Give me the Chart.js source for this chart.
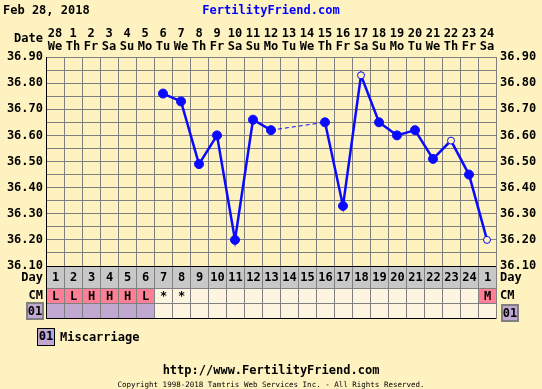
<!DOCTYPE html>
<html>
<head>
<meta charset="utf-8">
<script src="https://cdn.jsdelivr.net/npm/chart.js@4/dist/chart.umd.min.js"></script>
<style>
  body { margin: 0; background: #fdf2c0; }
  #wrap { position: relative; width: 542px; height: 389px; font-family: "DejaVu Sans Mono", monospace; font-weight: bold; }
  canvas { position: absolute; left: 0; top: 0; }
  .t { position: absolute; font-size: 12px; white-space: nowrap; line-height: 14px; }
  .box { position: absolute; background: #c0a8d0; border: 1px solid #000; font-size: 12px; line-height: 15px; text-align: center; }
</style>
</head>
<body>
<div id="wrap">
  <canvas id="chart" width="542" height="389"></canvas>
  <div class="t" style="left:3px;top:3px">Feb 28, 2018</div>
  <div class="t" style="left:0;width:542px;text-align:center;top:3px;color:#0000ff">FertilityFriend.com</div>
  <div class="box" style="left:37px;top:328px;width:16px;height:16px">01</div>
  <div class="t" style="left:60px;top:330px">Miscarriage</div>
  <div class="t" style="left:0;width:542px;text-align:center;top:363px">http://www.FertilityFriend.com</div>
  <div class="t" style="left:0;width:542px;text-align:center;top:378px;font-size:7.5px;font-weight:normal">Copyright 1998-2018 Tamtris Web Services Inc. - All Rights Reserved.</div>
</div>
<script>
// chart data
const dates = ["28","1","2","3","4","5","6","7","8","9","10","11","12","13","14","15","16","17","18","19","20","21","22","23","24"];
const weekdays = ["We","Th","Fr","Sa","Su","Mo","Tu","We","Th","Fr","Sa","Su","Mo","Tu","We","Th","Fr","Sa","Su","Mo","Tu","We","Th","Fr","Sa"];
const cycleDays = ["1","2","3","4","5","6","7","8","9","10","11","12","13","14","15","16","17","18","19","20","21","22","23","24","1"];
const temps = [null,null,null,null,null,null,36.76,36.73,36.49,36.60,36.20,36.66,36.62,null,null,36.65,36.33,36.83,36.65,36.60,36.62,36.51,36.58,36.45,36.20];
const openPoints = [17, 22, 24]; // excluded temps
const cm = ["L","L","H","H","H","L","*","*","","","","","","","","","","","","","","","","","M"];
const miscarriage = [1,1,1,1,1,1,0,0,0,0,0,0,0,0,0,0,0,0,0,0,0,0,0,0,0];
const yTicks = { min: 36.10, max: 36.90, step: 0.05 };

const FONT = { family: "DejaVu Sans Mono", size: 12, weight: "bold" };
const BG = "#fdf2c0";
const GRID = "#808080";
const BLUE = "#0a0aff";

const labels = dates.map((d, i) => [d, weekdays[i]]);

const tablePlugin = {
  id: "ffTable",
  afterDraw(chart) {
    const ctx = chart.ctx;
    const xs = chart.scales.x;
    const area = chart.chartArea;
    const w = xs.width / dates.length;
    const rows = [
      { top: area.bottom, h: 22 },
      { top: area.bottom + 22, h: 15 },
      { top: area.bottom + 37, h: 15 }
    ];
    ctx.save();
    ctx.font = "bold 12px 'DejaVu Sans Mono'";
    ctx.textAlign = "center";
    ctx.textBaseline = "middle";
    dates.forEach((d, i) => {
      const cx = xs.getPixelForValue(i);
      const x0 = cx - w / 2;
      // day row
      ctx.fillStyle = "#c8c8c8";
      ctx.fillRect(x0, rows[0].top, w, rows[0].h);
      // cm row
      ctx.fillStyle = (cm[i] && cm[i] !== "*") ? "#ff8096" : "#fdf5e0";
      ctx.fillRect(x0, rows[1].top, w, rows[1].h);
      // miscarriage row
      ctx.fillStyle = miscarriage[i] ? "#c0a8d0" : "#fdf5e0";
      ctx.fillRect(x0, rows[2].top, w, rows[2].h);
      ctx.strokeStyle = GRID;
      ctx.lineWidth = 1;
      rows.forEach(r => ctx.strokeRect(Math.round(x0) + 0.5, r.top + 0.5, w, r.h));
      ctx.fillStyle = "#000";
      ctx.fillText(cycleDays[i], cx + 0.5, rows[0].top + rows[0].h / 2 + 1);
      ctx.fillText(cm[i], cx + 0.5, rows[1].top + rows[1].h / 2 + 1);
    });
    // outline
    ctx.strokeStyle = "#000";
    ctx.beginPath();
    ctx.moveTo(area.left + 0.5, area.bottom);
    ctx.lineTo(area.left + 0.5, area.bottom + 52.5);
    ctx.lineTo(area.right, area.bottom + 52.5);
    ctx.moveTo(area.left, area.bottom + 0.5);
    ctx.lineTo(area.right, area.bottom + 0.5);
    ctx.stroke();

    // side labels
    ctx.fillStyle = "#000";
    ctx.textAlign = "right";
    ctx.fillText("Date", area.left - 3, area.top - 18);
    ctx.fillText("Day", area.left - 3, rows[0].top + 12);
    ctx.fillText("CM", area.left - 3, rows[1].top + 8);
    ctx.textAlign = "left";
    ctx.fillText("Day", area.right + 4, rows[0].top + 12);
    ctx.fillText("CM", area.right + 4, rows[1].top + 8);
    // "01" boxes
    const boxes = [[area.left - 19, rows[2].top], [area.right + 6, rows[2].top + 2]];
    boxes.forEach(([bx, by]) => {
      ctx.fillStyle = "#c0a8d0";
      ctx.fillRect(bx, by, 16, 16);
      ctx.strokeStyle = GRID;
      ctx.lineWidth = 2;
      ctx.strokeRect(bx, by, 16, 16);
      ctx.fillStyle = "#000";
      ctx.textAlign = "center";
      ctx.fillText("01", bx + 8, by + 9);
    });
    ctx.restore();
  }
};

const yAxis = (pos) => ({
  position: pos,
  min: yTicks.min,
  max: yTicks.max,
  ticks: {
    stepSize: yTicks.step,
    maxTicksLimit: 30,
    autoSkip: false,
    color: "#000",
    font: FONT,
    padding: pos === "left" ? 3 : 4,
    callback: v => Math.round(v * 100) % 10 === 0 ? v.toFixed(2) : ""
  },
  grid: { color: GRID, drawTicks: false, drawOnChartArea: pos === "left" },
  border: { color: pos === "left" ? "#000" : GRID },
  afterFit(s) { s.width = 46; }
});

const gap = (c, a, b) => (c.p0.skip || c.p1.skip) ? a : b;

new Chart(document.getElementById("chart"), {
  type: "line",
  data: {
    labels: labels,
    datasets: [{
      label: "Temp",
      data: temps,
      borderColor: BLUE,
      borderWidth: 2.5,
      tension: 0,
      spanGaps: true,
      pointRadius: temps.map((t, i) => openPoints.includes(i) ? 3.5 : 4.5),
      pointBackgroundColor: temps.map((t, i) => openPoints.includes(i) ? BG : BLUE),
      pointBorderColor: BLUE,
      pointBorderWidth: 1,
      segment: {
        borderDash: c => gap(c, [4, 3], undefined),
        borderWidth: c => gap(c, 1, 2.5)
      },
      clip: false
    }]
  },
  options: {
    responsive: false,
    animation: false,
    layout: { padding: { top: 24, bottom: 123, left: 0, right: 0 } },
    plugins: { legend: { display: false }, tooltip: { enabled: false } },
    scales: {
      x: {
        type: "category",
        position: "top",
        offset: true,
        grid: { offset: true, color: GRID, drawTicks: false },
        border: { color: GRID },
        ticks: { color: "#000", font: { ...FONT, lineHeight: 1.05 }, padding: 4, maxRotation: 0, autoSkip: false },
        afterFit(s) { s.height = 33; }
      },
      y: yAxis("left"),
      y2: yAxis("right")
    }
  },
  plugins: [tablePlugin]
});
</script>
</body>
</html>
